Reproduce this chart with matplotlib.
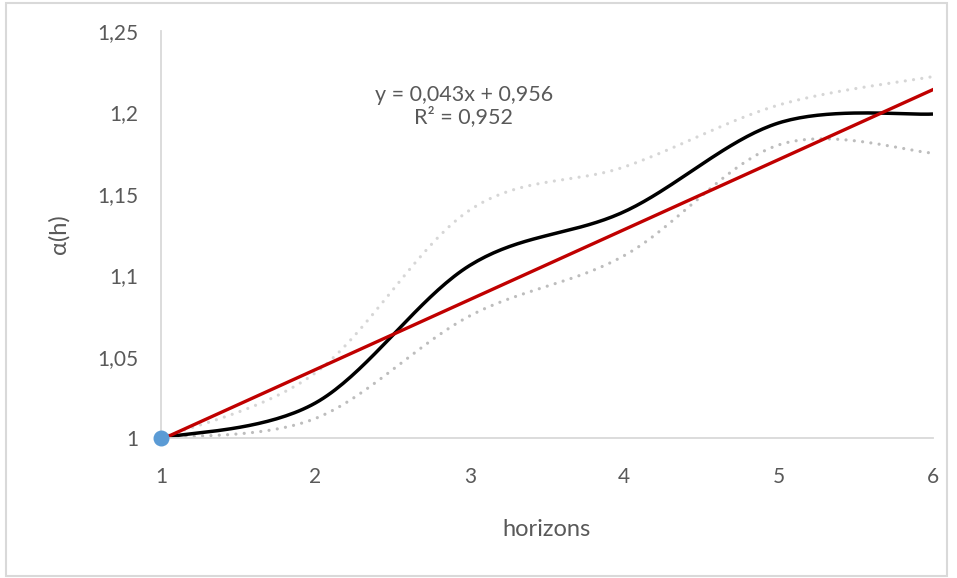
import numpy as np
import matplotlib
matplotlib.use("Agg")
from matplotlib import pyplot as plt
from matplotlib.patches import Rectangle

plt.rcParams['font.family'] = ['Lato', 'DejaVu Sans']

horizons = [1, 2, 3, 4, 5, 6]
alpha_mean = [1.000, 1.0215, 1.106, 1.139, 1.1935, 1.199]
alpha_upper = [1.000, 1.040, 1.140, 1.1665, 1.2045, 1.222]
alpha_lower = [1.000, 1.012, 1.075, 1.112, 1.180, 1.175]

trend_slope = 0.043
trend_intercept = 0.956
trend_r2 = 0.952

y_ticks = [1, 1.05, 1.1, 1.15, 1.2, 1.25]
y_ticklabels = ['1', '1,05', '1,1', '1,15', '1,2', '1,25']


def smooth(x, y, n=40):
    # bezier smoothing with catmull-rom control points
    pts = np.column_stack([x, y]).astype(float)
    ext = np.vstack([pts[0], pts, pts[-1]])
    t = np.linspace(0, 1, n)[:, None]
    out = []
    for i in range(len(pts) - 1):
        p0, p1, p2, p3 = ext[i], ext[i + 1], ext[i + 2], ext[i + 3]
        c1 = p1 + (p2 - p0) / 6
        c2 = p2 - (p3 - p1) / 6
        seg = (1 - t) ** 3 * p1 + 3 * (1 - t) ** 2 * t * c1 + 3 * (1 - t) * t ** 2 * c2 + t ** 3 * p2
        out.append(seg if i == 0 else seg[1:])
    out = np.vstack(out)
    return out[:, 0], out[:, 1]


fig = plt.figure(figsize=(9.57, 5.78), dpi=100)
fig.patches.append(Rectangle((0.006, 0.003), 0.984, 0.992, transform=fig.transFigure,
                             fill=False, edgecolor='#D9D9D9', linewidth=1.5))
ax = fig.add_axes([0.1682, 0.2422, 0.8067, 0.7042])

dots = dict(linewidth=2.3, dash_capstyle='round', dashes=(0.01, 2.6))
xs, ys = smooth(horizons, alpha_upper)
ax.plot(xs, ys, color='#D6D6D6', **dots)
xs, ys = smooth(horizons, alpha_lower)
ax.plot(xs, ys, color='#BDBDBD', **dots)
xs, ys = smooth(horizons, alpha_mean)
ax.plot(xs, ys, color='black', linewidth=2.5, solid_capstyle='butt')

xt = np.array([horizons[0], horizons[-1]], dtype=float)
ax.plot(xt, trend_slope * xt + trend_intercept, color='#C00000', linewidth=2.4)
ax.scatter([horizons[0]], [alpha_mean[0]], s=110, color='#5B9BD5', zorder=5, clip_on=False)

ax.text(2.96, 1.204, 'y = {:.3f}x + {:.3f}\nR² = {:.3f}'.format(trend_slope, trend_intercept, trend_r2).replace('.', ','),
        ha='center', va='center', fontsize=15.5, color='#595959', linespacing=1.1)

ax.set_xlim(1, 6)
ax.set_ylim(1, 1.25)
ax.set_xticks(horizons)
ax.set_yticks(y_ticks)
ax.set_yticklabels(y_ticklabels)
ax.tick_params(axis='both', length=0, labelsize=15, labelcolor='#595959')
ax.tick_params(axis='x', pad=21)
ax.tick_params(axis='y', pad=16)

for side in ['top', 'right']:
    ax.spines[side].set_visible(False)
for side in ['left', 'bottom']:
    ax.spines[side].set_color('#D9D9D9')
    ax.spines[side].set_linewidth(1.3)

ax.set_xlabel('horizons', fontsize=17, color='#595959', labelpad=23)
ax.set_ylabel('α(h)', fontsize=17, color='#595959', labelpad=20)

fig.savefig('out.png', dpi=100)
